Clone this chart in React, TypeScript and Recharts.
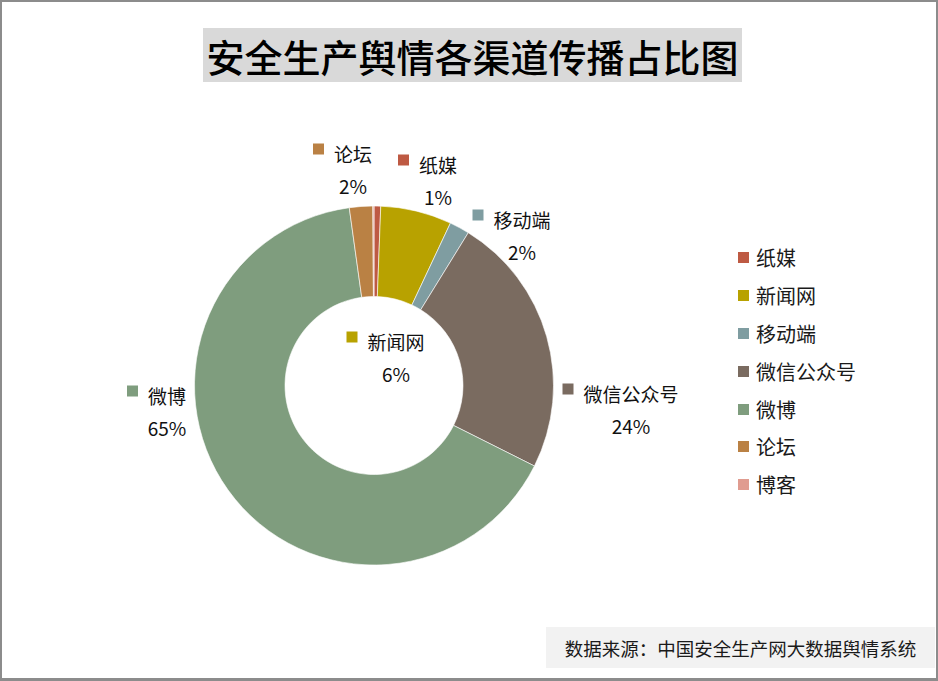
import { PieChart, Pie, Cell, Legend } from "recharts";

const channels = ["纸媒", "新闻网", "移动端", "微信公众号", "微博", "论坛", "博客"];
const shares = [0.6, 6.4, 1.8, 23.6, 65.4, 2.1, 0.1];
const colors = ["#BE5A43", "#B8A200", "#7F9DA1", "#7A6B60", "#7F9D7E", "#BA8144", "#E09C90"];

// label block anchor (name text centre) relative to the pie centre; null = no label
const labelAnchors: ([number, number] | null)[] = [
  [64, -221],
  [22, -44],
  [148, -166],
  [257, 8],
  [-207, 10],
  [-21, -232],
  null,
];

const data = channels.map((name, i) => ({ name, value: shares[i] }));

const FONT = '"Noto Sans CJK SC", "Noto Sans", sans-serif';

function renderLabel(props: any) {
  const { cx, cy, index, percent, name } = props;
  const off = labelAnchors[index];
  if (!off) return null;
  const x = cx + off[0];
  const y = cy + off[1];
  const w = String(name).length * 19;
  return (
    <g>
      <rect x={x - w / 2 - 21} y={y - 10} width={11} height={11} fill={colors[index]} />
      <text x={x} y={y} textAnchor="middle" dominantBaseline="central" fontSize={19} fill="#111" fontFamily={FONT}>
        {name}
      </text>
      <text x={x} y={y + 32} textAnchor="middle" dominantBaseline="central" fontSize={19} fill="#111" fontFamily={FONT}>
        {Math.round(percent * 100)}%
      </text>
    </g>
  );
}

function LegendBox() {
  return (
    <div style={{ fontFamily: FONT }}>
      {channels.map((name, i) => (
        <div key={name} style={{ display: "flex", alignItems: "center", height: 37.8 }}>
          <span style={{ width: 11, height: 11, background: colors[i], marginRight: 7, display: "inline-block" }} />
          <span style={{ fontSize: 20, color: "#1a1a1a" }}>{name}</span>
        </div>
      ))}
    </div>
  );
}

export default function App() {
  return (
    <div
      style={{
        position: "fixed",
        left: 0,
        top: 0,
        width: 938,
        height: 681,
        boxSizing: "border-box",
        borderStyle: "solid",
        borderColor: "#8c8c8c",
        borderWidth: "2px 2px 3px 2px",
        background: "#fff",
        fontFamily: FONT,
        overflow: "hidden",
      }}
    >
      <div
        style={{
          position: "absolute",
          left: 201,
          top: 26,
          width: 539,
          height: 54,
          background: "#d9d9d9",
          display: "flex",
          alignItems: "center",
          justifyContent: "center",
          fontSize: 38,
          fontWeight: 500,
          color: "#000",
          whiteSpace: "nowrap",
        }}
      >
        安全生产舆情各渠道传播占比图
      </div>
      <div style={{ position: "absolute", left: -2, top: -2 }}>
        <PieChart width={938} height={681} margin={{ top: 0, right: 0, bottom: 0, left: 0 }}>
          <Pie
            data={data}
            dataKey="value"
            nameKey="name"
            cx={374}
            cy={385.5}
            innerRadius={89}
            outerRadius={179.5}
            startAngle={90}
            endAngle={-270}
            stroke="#ffffff"
            strokeWidth={0.6}
            label={renderLabel}
            labelLine={false}
            isAnimationActive={false}
          >
            {data.map((d, i) => (
              <Cell key={d.name} fill={colors[i]} />
            ))}
          </Pie>
          <Legend
            layout="vertical"
            align="right"
            verticalAlign="top"
            content={<LegendBox />}
            wrapperStyle={{ left: 738, top: 239, width: 180 }}
          />
        </PieChart>
      </div>
      <div
        style={{
          position: "absolute",
          left: 544,
          top: 625,
          width: 389,
          height: 41,
          background: "#f2f2f2",
          display: "flex",
          alignItems: "center",
          justifyContent: "center",
          fontSize: 18.5,
          color: "#1a1a1a",
          whiteSpace: "nowrap",
        }}
      >
        数据来源：中国安全生产网大数据舆情系统
      </div>
    </div>
  );
}
